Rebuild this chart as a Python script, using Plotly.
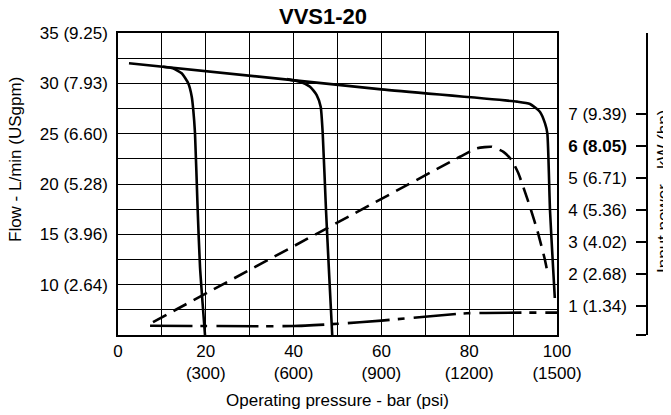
import plotly.graph_objects as go

# ---------------- data ----------------
# maximum flow curve (bar, L/min)
max_bar = [2.5, 60.0, 90.9, 93.85, 96.1, 97.27, 97.8, 98.4, 99.1, 99.5]
max_flow = [32.0, 29.4, 28.18, 27.95, 27.18, 26.02, 25.03, 17.42, 11.76, 8.68]

# 20 bar compensator setting
c20_bar = [10.25, 12.5, 14.5, 16.0, 16.8, 17.15, 17.54, 18.15, 18.68, 19.82]
c20_flow = [31.65, 31.5, 31.0, 30.0, 28.67, 27.35, 25.04, 17.42, 11.76, 5.0]

# 50 bar compensator setting
c50_bar = [38.5, 41.46, 43.74, 45.26, 46.17, 46.63, 47.38, 48.1, 48.8]
c50_flow = [30.42, 30.16, 29.67, 28.84, 27.68, 25.04, 17.42, 11.0, 5.0]

# input power at max flow (bar, kW)
pw_bar = [7.97, 77.9, 81.7, 85.1, 87.8, 89.7, 91.2, 92.7, 93.85, 95.7, 97.27, 98.0]
pw_kw = [0.485, 5.657, 5.92, 5.97, 5.81, 5.55, 5.14, 4.56, 4.09, 3.26, 2.42, 1.92]

# input power at zero flow (bar, kW)
p0_bar = [7.3, 40.0, 50.0, 60.0, 79.5, 100.0]
p0_kw = [0.37, 0.36, 0.43, 0.53, 0.76, 0.78]

x_ticks = [0, 10, 20, 30, 40, 50, 60, 70, 80, 90, 100]
x_text = ["0", "", "20<br>(300)", "", "40<br>(600)", "", "60<br>(900)", "",
          "80<br>(1200)", "", "100<br>(1500)"]
y_ticks = [5, 7.5, 10, 12.5, 15, 17.5, 20, 22.5, 25, 27.5, 30, 32.5, 35]
y_text = ["", "", "10 (2.64)", "", "15 (3.96)", "", "20 (5.28)", "",
          "25 (6.60)", "", "30 (7.93)", "", "35 (9.25)"]
y2_ticks = [0.08, 1, 2, 3, 4, 5, 6, 7]
y2_text = ["", "1 (1.34)", "2 (2.68)", "3 (4.02)", "4 (5.36)", "5 (6.71)",
           "<b>6 (8.05)</b>", "7 (9.39)"]

FONT = "Liberation Sans, Arial, sans-serif"
LW = 2.6

fig = go.Figure()
fig.add_trace(go.Scatter(x=max_bar, y=max_flow, mode="lines",
                         line=dict(color="black", width=LW, shape="spline", smoothing=0.5)))
fig.add_trace(go.Scatter(x=c20_bar, y=c20_flow, mode="lines",
                         line=dict(color="black", width=LW, shape="spline", smoothing=0.5)))
fig.add_trace(go.Scatter(x=c50_bar, y=c50_flow, mode="lines",
                         line=dict(color="black", width=LW, shape="spline", smoothing=0.5)))
fig.add_trace(go.Scatter(x=pw_bar, y=pw_kw, mode="lines", yaxis="y2",
                         line=dict(color="black", width=LW, dash="15px,8px",
                                   shape="spline", smoothing=0.5)))
fig.add_trace(go.Scatter(x=p0_bar, y=p0_kw, mode="lines", yaxis="y2",
                         line=dict(color="black", width=LW, dash="42px,8px,7px,9px",
                                   shape="spline", smoothing=0.5)))

xdom = 439 / 529

fig.update_layout(
    width=663, height=407,
    margin=dict(l=110, r=24, t=25, b=80, autoexpand=False),
    paper_bgcolor="white", plot_bgcolor="white",
    showlegend=False,
    font=dict(family=FONT, size=17, color="black"),
    xaxis=dict(domain=[0, xdom], range=[0, 100], tickvals=x_ticks, ticktext=x_text,
               showgrid=True, gridcolor="black", gridwidth=1,
               showline=True, mirror=True, linecolor="black", linewidth=1.5,
               ticks="", zeroline=False, ticklabelstandoff=0, automargin=False,
               tickfont=dict(size=17)),
    yaxis=dict(range=[5, 35], tickvals=y_ticks, ticktext=y_text,
               showgrid=True, gridcolor="black", gridwidth=1,
               showline=True, mirror=True, linecolor="black", linewidth=1.5,
               ticks="", zeroline=False, ticklabelstandoff=5, automargin=False,
               tickfont=dict(size=17)),
    yaxis2=dict(overlaying="y", anchor="free", position=1, side="left",
                range=[0.08, 9.53], tickvals=y2_ticks, ticktext=y2_text,
                showgrid=False, zeroline=False, automargin=False,
                showline=True, linecolor="black", linewidth=1.5,
                ticks="outside", ticklen=10, tickwidth=1.5, tickcolor="black",
                ticklabelstandoff=6, tickfont=dict(size=17)),
    annotations=[
        dict(text="<b>VVS1-20</b>", xref="paper", yref="paper",
             x=(323 - 118) / 529, y=(335 - 17) / 302, xanchor="center", yanchor="middle",
             showarrow=False, font=dict(size=22, family=FONT)),
        dict(text="Flow - L/min (USgpm)", xref="paper", yref="paper",
             x=(15 - 118) / 529, y=(335 - 160) / 302, xanchor="center", yanchor="middle",
             textangle=-90, showarrow=False, font=dict(size=17, family=FONT)),
        dict(text="Operating pressure - bar (psi)", xref="paper", yref="paper",
             x=xdom / 2, y=(335 - 400) / 302, xanchor="center", yanchor="middle",
             showarrow=False, font=dict(size=17, family=FONT)),
        dict(text="Input power - kW (hp)", xref="paper", yref="paper",
             x=(663 - 118) / 529, y=(335 - 192) / 302, xanchor="center", yanchor="middle",
             textangle=-90, showarrow=False, font=dict(size=17, family=FONT)),
    ],
)

fig.write_html("out.html")
